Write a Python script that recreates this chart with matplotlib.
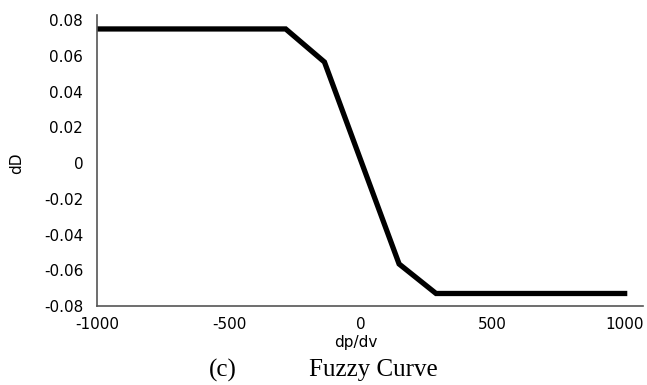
import matplotlib
matplotlib.use("Agg")
import matplotlib.pyplot as plt

# curve knots
dpdv = [-1000, -285, -138, 145, 285, 1000]
dD = [0.075, 0.075, 0.0565, -0.0565, -0.073, -0.073]

xticks = [-1000, -500, 0, 500, 1000]
yticks = [0.08, 0.06, 0.04, 0.02, 0, -0.02, -0.04, -0.06, -0.08]
ytick_labels = ["0.08", "0.06", "0.04", "0.02", "0", "-0.02", "-0.04", "-0.06", "-0.08"]

plt.rcParams['font.family'] = ['DejaVu Sans']

fig = plt.figure(figsize=(6.47, 3.85), dpi=100)
ax = fig.add_axes([0.15, 0.2052, 0.844, 0.7558])

ax.plot(dpdv, dD, color='black', linewidth=3.8, solid_joinstyle='miter')

ax.set_xlim(-1000, 1070)
ax.set_ylim(-0.0789, 0.0828)
ax.set_xticks(xticks)
ax.set_xticklabels([str(v) for v in xticks])
ax.set_yticks(yticks)
ax.set_yticklabels(ytick_labels)
ax.tick_params(length=0, labelsize=11, colors='black')
ax.tick_params(axis='x', pad=8)
ax.tick_params(axis='y', pad=10)

for s in ['top', 'right']:
    ax.spines[s].set_visible(False)
for s in ['left', 'bottom']:
    ax.spines[s].set_color('#555555')
    ax.spines[s].set_linewidth(1.2)

ax.set_xlabel('dp/dv', fontsize=11)
ax.xaxis.set_label_coords(0.474, -0.127)
ax.xaxis.label.set_va('center')
ax.set_ylabel('dD', fontsize=11)
ax.yaxis.set_label_coords(-0.1465, 0.491)
ax.yaxis.label.set_va('center')

fig.text(223 / 647, 0.039, '(c)', fontsize=18, family='Liberation Serif', ha='center', va='center')
fig.text(373 / 647, 0.039, 'Fuzzy Curve', fontsize=18, family='Liberation Serif', ha='center', va='center')

plt.savefig('out.png', dpi=100)
